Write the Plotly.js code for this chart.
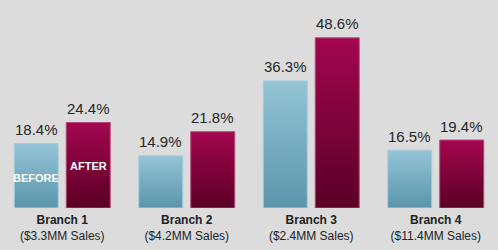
<!DOCTYPE html>
<html>
<head>
<meta charset="utf-8">
<script src="https://cdn.plot.ly/plotly-3.0.1.min.js"></script>
<style>html,body{margin:0;padding:0;background:#dcdcdc;}#chart{width:498px;height:250px;}</style>
</head>
<body>
<div id="chart"></div>
<script>
const branches = ["Branch 1", "Branch 2", "Branch 3", "Branch 4"];
const sales = ["($3.3MM Sales)", "($4.2MM Sales)", "($2.4MM Sales)", "($11.4MM Sales)"];
const before = [18.4, 14.9, 36.3, 16.5];
const after = [24.4, 21.8, 48.6, 19.4];

const fmt = v => v.toFixed(1) + "%";
const tickText = branches.map((b, i) => "<b>" + b + "</b><br>" + sales[i]);
const labelFont = {family: "Liberation Sans, Arial, sans-serif", size: 15, color: "#262626"};

const traces = [
  {
    type: "bar", name: "BEFORE", x: branches, y: before,
    marker: {color: "#78adc2", line: {color: "#a6cddc", width: 1}},
    hoverinfo: "none"
  },
  {
    type: "bar", name: "AFTER", x: branches, y: after,
    marker: {color: "#800037", line: {color: "#b4467a", width: 1}},
    hoverinfo: "none"
  }
];

const annotations = [];
branches.forEach((b, i) => {
  annotations.push({x: b, y: before[i], xshift: -26, yshift: 14, text: fmt(before[i]),
    showarrow: false, font: labelFont, yanchor: "middle"});
  annotations.push({x: b, y: after[i], xshift: 26, yshift: 14, text: fmt(after[i]),
    showarrow: false, font: labelFont, yanchor: "middle"});
});
annotations.push({x: branches[0], y: 8.6, xshift: -26, text: "<b>BEFORE</b>", showarrow: false,
  font: {size: 11, color: "#ffffff"}});
annotations.push({x: branches[0], y: 12, xshift: 26, text: "<b>AFTER</b>", showarrow: false,
  font: {size: 11, color: "#ffffff"}});

const layout = {
  width: 498, height: 250,
  margin: {l: 0, r: 0, t: 0, b: 42},
  paper_bgcolor: "#dcdcdc", plot_bgcolor: "#dcdcdc",
  showlegend: false,
  barmode: "group", bargap: 0.165, bargroupgap: 0.154,
  font: {family: "Liberation Sans, Arial, sans-serif", color: "#222"},
  xaxis: {
    tickvals: branches, ticktext: tickText, ticks: "", showline: false,
    showgrid: false, zeroline: false, tickfont: {size: 12, color: "#222"},
    ticklabelstandoff: 3
  },
  yaxis: {range: [0, 59.4], visible: false, showgrid: false, zeroline: false},
  annotations: annotations
};

Plotly.newPlot("chart", traces, layout, {displayModeBar: false, staticPlot: true}).then(gd => {
  const svg = gd.querySelector("svg.main-svg");
  const ns = "http://www.w3.org/2000/svg";
  let defs = svg.querySelector("defs");
  const mk = (id, top, bottom) => {
    const g = document.createElementNS(ns, "linearGradient");
    g.setAttribute("id", id);
    g.setAttribute("x1", "0"); g.setAttribute("y1", "0");
    g.setAttribute("x2", "0"); g.setAttribute("y2", "1");
    [[0, top], [1, bottom]].forEach(([o, c]) => {
      const s = document.createElementNS(ns, "stop");
      s.setAttribute("offset", o); s.setAttribute("stop-color", c);
      g.appendChild(s);
    });
    defs.appendChild(g);
  };
  mk("gBlue", "#94c4d6", "#5a95ac");
  mk("gMaroon", "#a3064f", "#5a0024");
  const traceGroups = gd.querySelectorAll(".barlayer .trace.bars");
  traceGroups.forEach((tg, i) => {
    tg.querySelectorAll("path").forEach(p => {
      p.style.fill = i === 0 ? "url(#gBlue)" : "url(#gMaroon)";
    });
  });
});
</script>
</body>
</html>
